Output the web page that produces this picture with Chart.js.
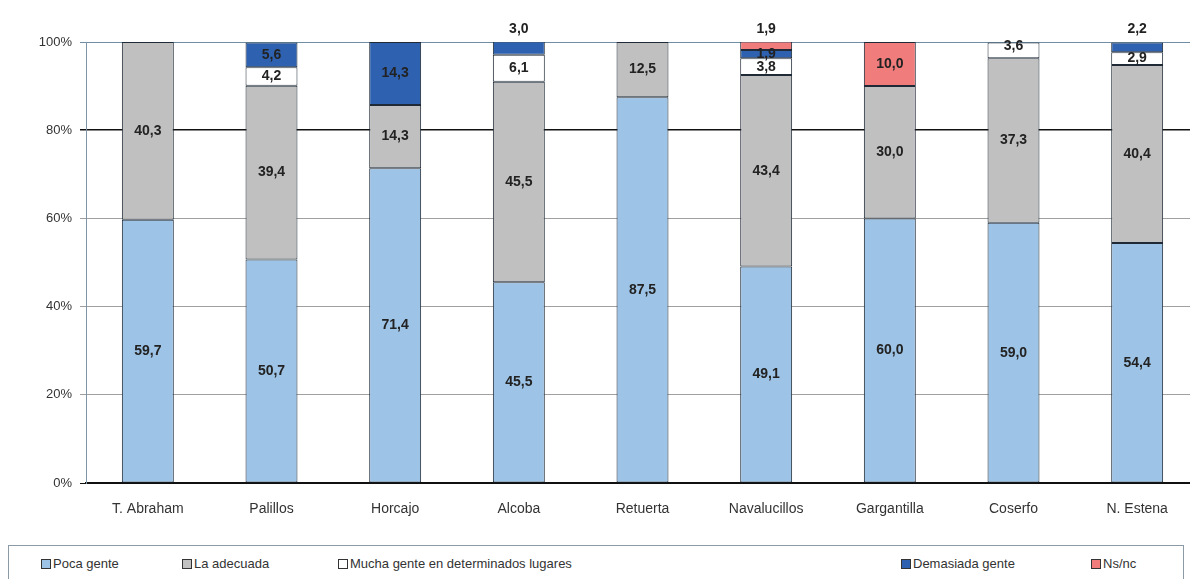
<!DOCTYPE html>
<html>
<head>
<meta charset="utf-8">
<script src="https://cdn.jsdelivr.net/npm/chart.js@4.4.1/dist/chart.umd.min.js"></script>
<style>
  html, body { margin: 0; padding: 0; background: #fff; overflow: hidden; }
  #wrap { position: relative; width: 1215px; height: 579px; }
  #caja { position: absolute; left: 0; top: 0; width: 1215px; height: 545px; }
  #leyenda { position: absolute; left: 8px; top: 545px; width: 1174px; height: 40px;
             border: 1px solid #8c9aa6; font-family: "Liberation Sans", Arial, sans-serif;
             font-size: 13px; color: #333; }
  .item { position: absolute; top: 10px; white-space: nowrap; }
  .item span { display: inline-block; width: 8px; height: 8px; border: 1px solid #333;
               margin-right: 2px; vertical-align: -1px; }
</style>
</head>
<body>
<div id="wrap">
  <div id="caja"><canvas id="grafico"></canvas></div>
  <div id="leyenda"></div>
</div>
<script>
console.log("Grafico activo");

// datos (porcentajes)
const categorias = ['T. Abraham', 'Palillos', 'Horcajo', 'Alcoba', 'Retuerta', 'Navalucillos', 'Gargantilla', 'Coserfo', 'N. Estena'];
const pocaGente = [59.7, 50.7, 71.4, 45.5, 87.5, 49.1, 60.0, 59.0, 54.4];
const laAdecuada = [40.3, 39.4, 14.3, 45.5, 12.5, 43.4, 30.0, 37.3, 40.4];
const muchaGente = [0, 4.2, 0, 6.1, 0, 3.8, 0, 3.6, 2.9];
const demasiadaGente = [0, 5.6, 14.3, 3.0, 0, 1.9, 0, 0, 2.2];
const nsnc = [0, 0, 0, 0, 0, 1.9, 10.0, 0, 0];
const ticksY = ['0%', '20%', '40%', '60%', '80%', '100%'];
const nombres = ['Poca gente', 'La adecuada', 'Mucha gente en determinados lugares', 'Demasiada gente', 'Ns/nc'];

const colores = ['#9dc3e6', '#c0c0c0', '#ffffff', '#2e62b0', '#f07c7c'];
const posLeyenda = [32, 173, 329, 892, 1082];

const ctx = document.getElementById('grafico');

// etiquetas de valor dentro (o encima) de cada segmento
const etiquetas = {
    id: 'etiquetas',
    afterDatasetsDraw(chart) {
        const c = chart.ctx;
        c.save();
        c.font = 'bold 14px "Liberation Sans", Arial, sans-serif';
        c.fillStyle = '#222';
        c.textAlign = 'center';
        c.textBaseline = 'middle';
        const n = chart.data.datasets.length;
        chart.data.labels.forEach((lab, j) => {
            // ultimo segmento con valor
            let ultimo = -1;
            for (let i = 0; i < n; i++) {
                if (chart.data.datasets[i].data[j] > 0) ultimo = i;
            }
            for (let i = 0; i < n; i++) {
                const v = chart.data.datasets[i].data[j];
                if (!v) continue;
                const bar = chart.getDatasetMeta(i).data[j];
                const texto = v.toFixed(1).replace('.', ',');
                let y = (bar.y + bar.base) / 2;
                if (i === ultimo && v < 3.5) {
                    y = Math.max(bar.y, chart.chartArea.top) - 13;
                } else if (i === ultimo && v < 4) {
                    y -= 4;
                }
                c.fillText(texto, bar.x, y);
            }
        });
        c.restore();
    }
};

const series = [pocaGente, laAdecuada, muchaGente, demasiadaGente, nsnc];

const colorRejilla = function (context) {
    const v = context.tick.value;
    if (v === 80 || v === 0) return '#111';
    if (v === 100) return '#6f8ea6';
    return '#a0a0a0';
};

new Chart(ctx, {
    type: 'bar',
    data: {
        labels: categorias,
        datasets: series.map((d, i) => ({
            label: nombres[i],
            data: d,
            backgroundColor: colores[i],
            borderColor: '#1f2a36',
            borderWidth: 1,
            borderSkipped: false,
            categoryPercentage: 1,
            barPercentage: 0.42
        }))
    },
    options: {
        responsive: true,
        maintainAspectRatio: false,
        animation: false,
        layout: {
            padding: { top: 42, right: 16, left: 0, bottom: 0 }
        },
        scales: {
            x: {
                stacked: true,
                grid: { display: false, drawTicks: false, tickLength: 0 },
                border: { display: true, color: '#111', width: 1.5 },
                ticks: {
                    color: '#333',
                    padding: 18,
                    maxRotation: 0,
                    autoSkip: false,
                    font: { family: '"Liberation Sans", Arial, sans-serif', size: 14 }
                },
                afterFit: s => { s.height = 62; }
            },
            y: {
                stacked: true,
                min: 0,
                max: 100,
                grid: {
                    color: colorRejilla,
                    lineWidth: c => (c.tick.value === 80 ? 1.5 : 1),
                    tickLength: 6,
                    drawTicks: true
                },
                border: { color: '#7f95a8', width: 1 },
                ticks: {
                    stepSize: 20,
                    color: '#333',
                    padding: 8,
                    font: { family: '"Liberation Sans", Arial, sans-serif', size: 13 },
                    callback: (v, i) => ticksY[i]
                },
                afterFit: s => { s.width = 86; }
            }
        },
        plugins: {
            legend: { display: false },
            tooltip: { enabled: false }
        }
    },
    plugins: [etiquetas]
});

// leyenda en html
const ley = document.getElementById('leyenda');
nombres.forEach((nom, i) => {
    const d = document.createElement('div');
    d.className = 'item';
    d.style.left = posLeyenda[i] + 'px';
    d.innerHTML = '<span style="background:' + colores[i] + '"></span>' + nom;
    ley.appendChild(d);
});
</script>
</body>
</html>
